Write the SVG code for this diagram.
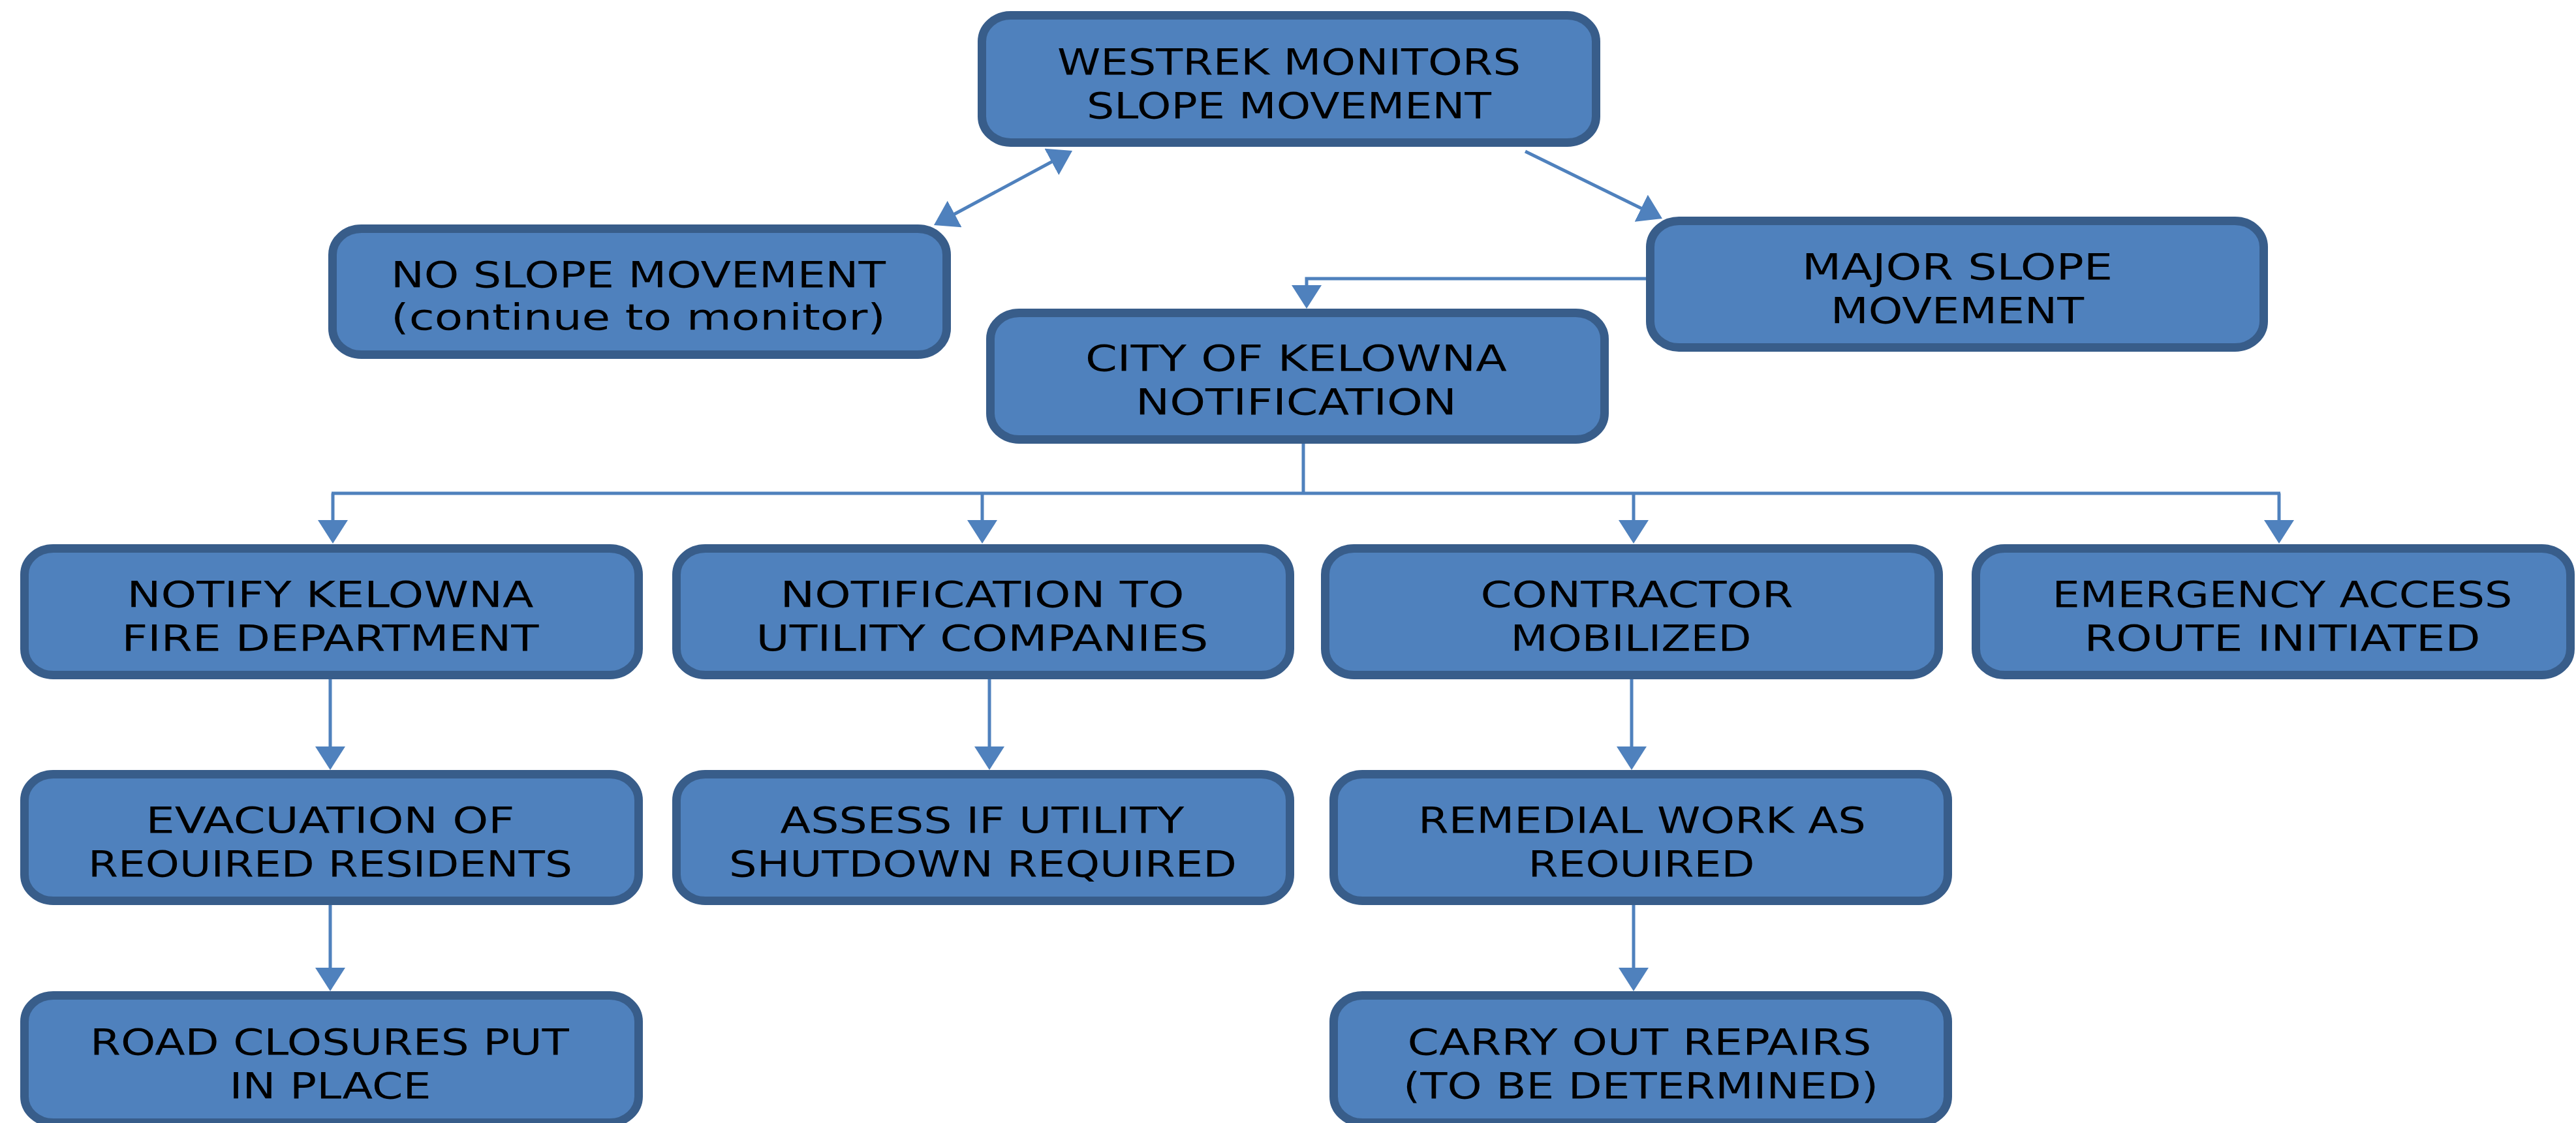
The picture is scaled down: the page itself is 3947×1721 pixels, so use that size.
<svg xmlns="http://www.w3.org/2000/svg" width="3947" height="1721" viewBox="0 0 3947 1721">
<style>
.box{fill:#4F81BD;stroke:#385D8A;stroke-width:13}
.lbl{font-family:"DejaVu Sans","Liberation Sans",sans-serif;font-size:55px;fill:#000;text-anchor:middle}
.con{fill:none;stroke:#4F81BD;stroke-width:5}
</style>
<defs>
<marker id="ah" markerUnits="userSpaceOnUse" markerWidth="36" markerHeight="46" viewBox="0 0 36 46" refX="28" refY="23" orient="auto-start-reverse">
<path d="M0,0 L36,23 L0,46 z" fill="#4F81BD"/>
</marker>
</defs>
<rect width="3947" height="1721" fill="#FFFFFF"/>
<g id="connectors">
<line class="con" x1="1438" y1="341.2" x2="1636" y2="234.8" marker-start="url(#ah)" marker-end="url(#ah)"/>
<line class="con" x1="2337" y1="232" x2="2539.8" y2="331.5" marker-end="url(#ah)"/>
<polyline class="con" points="2522,427 2002,427 2002,465" marker-end="url(#ah)"/>
<line class="con" x1="1997" y1="680" x2="1997" y2="756"/>
<line class="con" x1="508" y1="756" x2="3494" y2="756"/>
<line class="con" x1="510" y1="756" x2="510" y2="825" marker-end="url(#ah)"/>
<line class="con" x1="1505" y1="756" x2="1505" y2="825" marker-end="url(#ah)"/>
<line class="con" x1="2503" y1="756" x2="2503" y2="825" marker-end="url(#ah)"/>
<line class="con" x1="3492" y1="756" x2="3492" y2="825" marker-end="url(#ah)"/>
<line class="con" x1="506" y1="1041" x2="506" y2="1172" marker-end="url(#ah)"/>
<line class="con" x1="506" y1="1387" x2="506" y2="1511" marker-end="url(#ah)"/>
<line class="con" x1="1516" y1="1041" x2="1516" y2="1172" marker-end="url(#ah)"/>
<line class="con" x1="2500" y1="1041" x2="2500" y2="1172" marker-end="url(#ah)"/>
<line class="con" x1="2503" y1="1387" x2="2503" y2="1511" marker-end="url(#ah)"/>
</g>
<g id="westrek">
<rect class="box" x="1504.5" y="23.5" width="941" height="195" rx="44" ry="40"/>
<text class="lbl" x="1975" y="114" textLength="710" lengthAdjust="spacingAndGlyphs">WESTREK MONITORS</text>
<text class="lbl" x="1975" y="181" textLength="620" lengthAdjust="spacingAndGlyphs">SLOPE MOVEMENT</text>
</g>
<g id="no-slope">
<rect class="box" x="509.5" y="350.5" width="941" height="193" rx="44" ry="40"/>
<text class="lbl" x="978" y="440" textLength="758" lengthAdjust="spacingAndGlyphs">NO SLOPE MOVEMENT</text>
<text class="lbl" x="978" y="505" textLength="758" lengthAdjust="spacingAndGlyphs">(continue to monitor)</text>
</g>
<g id="major-slope">
<rect class="box" x="2528.5" y="338.5" width="940" height="194" rx="44" ry="40"/>
<text class="lbl" x="2999" y="428" textLength="476" lengthAdjust="spacingAndGlyphs">MAJOR SLOPE</text>
<text class="lbl" x="2999" y="495" textLength="388" lengthAdjust="spacingAndGlyphs">MOVEMENT</text>
</g>
<g id="city">
<rect class="box" x="1517.5" y="479.5" width="941" height="194" rx="44" ry="40"/>
<text class="lbl" x="1986" y="568" textLength="646" lengthAdjust="spacingAndGlyphs">CITY OF KELOWNA</text>
<text class="lbl" x="1986" y="635" textLength="492" lengthAdjust="spacingAndGlyphs">NOTIFICATION</text>
</g>
<g id="fire">
<rect class="box" x="37.5" y="840.5" width="941" height="194" rx="44" ry="40"/>
<text class="lbl" x="506" y="930" textLength="623" lengthAdjust="spacingAndGlyphs">NOTIFY KELOWNA</text>
<text class="lbl" x="506" y="997" textLength="639" lengthAdjust="spacingAndGlyphs">FIRE DEPARTMENT</text>
</g>
<g id="utility">
<rect class="box" x="1036.5" y="840.5" width="940" height="194" rx="44" ry="40"/>
<text class="lbl" x="1505" y="930" textLength="619" lengthAdjust="spacingAndGlyphs">NOTIFICATION TO</text>
<text class="lbl" x="1505" y="997" textLength="693" lengthAdjust="spacingAndGlyphs">UTILITY COMPANIES</text>
</g>
<g id="contractor">
<rect class="box" x="2030.5" y="840.5" width="940" height="194" rx="44" ry="40"/>
<text class="lbl" x="2508" y="930" textLength="479" lengthAdjust="spacingAndGlyphs">CONTRACTOR</text>
<text class="lbl" x="2499" y="997" textLength="369" lengthAdjust="spacingAndGlyphs">MOBILIZED</text>
</g>
<g id="emergency">
<rect class="box" x="3027.5" y="840.5" width="911" height="194" rx="44" ry="40"/>
<text class="lbl" x="3497" y="930" textLength="705" lengthAdjust="spacingAndGlyphs">EMERGENCY ACCESS</text>
<text class="lbl" x="3497" y="997" textLength="607" lengthAdjust="spacingAndGlyphs">ROUTE INITIATED</text>
</g>
<g id="evacuation">
<rect class="box" x="37.5" y="1186.5" width="941" height="194" rx="44" ry="40"/>
<text class="lbl" x="506" y="1276" textLength="565" lengthAdjust="spacingAndGlyphs">EVACUATION OF</text>
<text class="lbl" x="506" y="1343" textLength="742" lengthAdjust="spacingAndGlyphs">REOUIRED RESIDENTS</text>
</g>
<g id="assess">
<rect class="box" x="1036.5" y="1186.5" width="940" height="194" rx="44" ry="40"/>
<text class="lbl" x="1505" y="1276" textLength="619" lengthAdjust="spacingAndGlyphs">ASSESS IF UTILITY</text>
<text class="lbl" x="1506" y="1343" textLength="778" lengthAdjust="spacingAndGlyphs">SHUTDOWN REQUIRED</text>
</g>
<g id="remedial">
<rect class="box" x="2043.5" y="1186.5" width="941" height="194" rx="44" ry="40"/>
<text class="lbl" x="2516" y="1276" textLength="686" lengthAdjust="spacingAndGlyphs">REMEDIAL WORK AS</text>
<text class="lbl" x="2515" y="1343" textLength="347" lengthAdjust="spacingAndGlyphs">REOUIRED</text>
</g>
<g id="road">
<rect class="box" x="37.5" y="1525.5" width="941" height="195" rx="44" ry="40"/>
<text class="lbl" x="505" y="1616" textLength="734" lengthAdjust="spacingAndGlyphs">ROAD CLOSURES PUT</text>
<text class="lbl" x="506" y="1683" textLength="309" lengthAdjust="spacingAndGlyphs">IN PLACE</text>
</g>
<g id="carry">
<rect class="box" x="2043.5" y="1525.5" width="941" height="195" rx="44" ry="40"/>
<text class="lbl" x="2512" y="1616" textLength="711" lengthAdjust="spacingAndGlyphs">CARRY OUT REPAIRS</text>
<text class="lbl" x="2514" y="1683" textLength="728" lengthAdjust="spacingAndGlyphs">(TO BE DETERMINED)</text>
</g>
</svg>
